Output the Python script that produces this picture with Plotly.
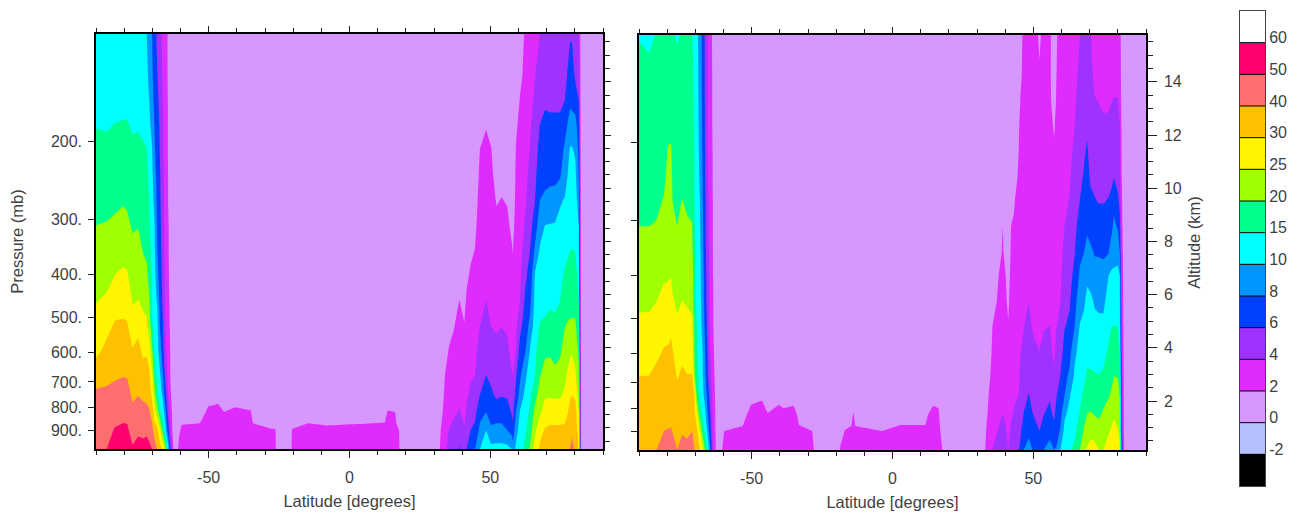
import numpy as np
import plotly.graph_objects as go

# ---- data -----------------------------------------------------------------
pressure = [993, 900, 819, 750, 675, 593, 520, 456, 400, 352, 309, 271, 238, 208, 183, 161, 141, 114]

levels = [-2, 0, 2, 4, 6, 8, 10, 15, 20, 25, 30, 40, 50, 60]
level_labels = ["-2", "0", "2", "4", "6", "8", "10", "15", "20", "25", "30", "40", "50", "60"]
band_colors = ["#000000", "#B6C0FF", "#D896FF", "#E02BFF", "#A032FF", "#0040FF", "#0096FF", "#00FFFF",
               "#00FF8C", "#A0FF00", "#FFF500", "#FFC000", "#FF6E6E", "#FF0070", "#FFFFFF"]

pressure_ticks = [200, 300, 400, 500, 600, 700, 800, 900]
pressure_labels = ["200.", "300.", "400.", "500.", "600.", "700.", "800.", "900."]
altitude_ticks = [2, 4, 6, 8, 10, 12, 14]
lat_ticks = [-50, 0, 50]

ONE = [1.0] * 14

lat_left = [-90, -86.2, -83.2, -80.3, -78.9, -77, -75, -73.2, -72, -71.1, -70.1, -69.2, -68.2, -67.3,
            -66.3, -65.4, -64.4, -63.5, -62.5, -61.6]
z_left = [
 [48,46,44,42,35.8,28.7,26.7,24.7,23.1,21.6,20,18.7,17.4,16.1,14.8,13.5,12.5,11],
 [50,47,44,41.6,38,32.5,28.5,25.6,23.6,21.9,20.2,18.8,17.5,16,14.6,13.3,12,10.8],
 [54,50.8,46.5,42.5,39,35,31,27.9,25,23,20.6,19.3,17.9,16.5,15.1,13.6,12.2,10.8],
 [55,51.6,47.6,43.8,39.6,35.4,31.2,28.2,25.7,23.5,21.3,19.6,18.2,16.7,15.3,13.8,12.4,11],
 [55,51.4,47.2,43.5,39.3,35,30.8,27.9,25.4,23,20.9,19.3,17.9,16.6,15.3,13.8,12.4,11],
 [51,46.5,42,38.5,35,30.6,26.8,24.5,22.7,21,19.5,18.3,17,15.8,14.5,13.3,12.2,10.8],
 [52.5,48.7,44,39.8,36.5,32.3,28.8,25,23.2,21.4,19.8,18.5,17.2,15.9,14.6,13.3,12.2,10.7],
 [52.5,48,42.5,38.5,34,29,26.2,24,21.8,19.7,18.7,17.6,16.5,15.4,14.2,12.9,11.6,10.4],
 [53,48.5,42,38,33.8,29.3,25.8,23.2,20.8,19.2,18.2,17.2,16.2,15.1,13.8,12.3,11,10],
 [52,47,41,36,32,27,23,20.5,18.5,17,15.5,15,14,13,11,10,9.5,9],
 [50,43,36,29,26,21,15.6,15,14.3,13.6,12.9,12,11.3,10.3,9.4,8.8,8.3,8],
 [45,35.5,27,22,18,14.3,13.2,12.3,11.4,10.6,10,9.4,8.8,8.2,7.9,7.5,7.1,6.7],
 [39,32,21.9,16,13.3,11.4,10.9,9.7,8.7,8,7.7,7.5,7.3,7,6.8,6.4,6,5.5],
 [34,26,16.4,12,10.7,9,8,7.4,7,6.8,6.6,6.3,6.2,5.9,5.7,5.4,4.9,4.6],
 [29,18.3,12.7,9.7,8.3,6.7,6.2,5.7,5.4,5.1,5,4.8,4.7,4.4,4.3,4,3.8,3.6],
 [22,11.7,8.8,6.8,5.3,4.5,4,3.7,3.5,3.4,3.4,3.2,3.2,3.1,3.1,3,2.8,2.7],
 [12.5,7,5.3,4,3.3,3,2.7,2.5,2.3,2.2,2.2,2,2,1.9,1.9,1.9,1.8,1.8],
 [5.5,3.5,2.9,2.2,1.8,1.8,1.6,1.5,1.4,1.3,1.3,1.3,1.3,1.2,1.2,1.2,1.2,1.2],
 [2,1,1,1,1,1,1,1,1,1,1,1,1,1,1,1,1,1],
 [1,1,1,1,1,1,1,1,1,1,1,1,1,1,1,1,1,1],
]

lat_mid = [-60.5, -59.6, -53.1, -50.2, -46.7, -44.5, -40.6, -35, -34.3, -27.5, -26.3, -25.7, -21.1, -20.4,
           -14.7, -8, 2.7, 12.6, 13.5, 16.2, 16.7, 17.6, 18.1]
z_mid = [
 [2.4,1.8,1,1]+ONE, [2.9,2.2,1.5,1]+ONE, [2.9,2.3,1.5,1]+ONE, [3.2,2.9,2.2,1.6]+ONE,
 [3.2,2.9,2.4,1.6]+ONE, [3.1,2.7,2,1.4]+ONE, [3.1,2.8,2.2,1.5]+ONE, [3.1,2.8,2.05,1.5]+ONE,
 [2.9,2.3,1.5,1]+ONE, [2.7,2.05,1.4,1]+ONE, [2.4,2.05,1.2,1]+ONE, [1,1,1,1]+ONE,
 [1,1,1,1]+ONE, [2.4,2.05,1.2,1]+ONE, [2.8,2.3,1.5,1]+ONE, [2.8,2.2,1.4,1]+ONE,
 [2.8,2.25,1.5,1]+ONE, [2.9,2.3,1.6,1]+ONE, [3.2,2.8,2.05,1.5]+ONE, [3,2.7,2,1.4]+ONE,
 [2.8,2.25,1.5,1]+ONE, [2.5,2,1.3,1]+ONE, [1,1,1,1]+ONE,
]

lat_right = [31.4, 32.6, 33.9, 35.2, 37.1, 39, 40.8, 41.6, 43, 44.6, 46.3, 48.5, 50.3, 52.2, 54, 56, 57.6, 58, 59.1,
             60.5, 62.3, 64.1, 65.9, 67.6, 69.4, 71.2, 73, 74.7, 76.5, 78.3, 79, 80.2, 81.4, 82.2, 90]
z_right = [
 [1,1,1,1]+ONE,
 [2.8,2.2,1.5,1]+ONE,
 [3.6,3.3,2.8,2.4,2,1.3,1,1,1,1,1,1,1,1,1,1,1,1],
 [4.5,4,3.6,3.2,2.8,2.05,1.5,1,1,1,1,1,1,1,1,1,1,1],
 [5,4.4,3.8,3.4,3,2.5,1.9,1.4,1,1,1,1,1,1,1,1,1,1],
 [6.2,5,4.1,3.7,3.4,2.9,2.5,2,1.5,1.2,1,1,1,1,1,1,1,1],
 [4.5,4.1,3.7,3.4,3.1,2.6,2.05,1.6,1.3,1,1,1,1,1,1,1,1,1],
 [6,5.1,4.2,3.8,3.4,3,2.6,2.2,1.7,1.3,1,1,1,1,1,1,1,1],
 [7,6,5.2,4.3,3.8,3.4,3,2.6,2.2,1.7,1.3,1,1,1,1,1,1,1],
 [8,6.4,5.5,4.8,4,3.6,3.2,2.8,2.45,2.05,1.6,1.3,1,1,1,1,1,1],
 [10,8.5,7.3,6,5.4,4.7,3.95,3.7,3.4,3.1,2.9,2.6,2.3,2,1.6,1.2,1,1],
 [12,10,8,7,6,5.3,4.6,4,3.7,3.4,3.1,2.8,2.5,2.2,1.95,1.5,1.1,1],
 [11.5,8.3,7.2,6.3,5.6,4.7,3.95,3.7,3.4,3.1,2.9,2.6,2.3,2.05,1.6,1.2,1,1],
 [11.5,8.6,7,5.7,5.1,4.4,3.8,3.4,3.1,2.7,2.3,1.9,1.5,1.2,1,1,1,1],
 [11.5,8.6,7,5.9,5.3,4.6,3.95,3.6,3.2,2.85,2.45,2.05,1.6,1.3,1,1,1,1],
 [11.5,8,6.8,5.8,5.1,4.3,3.8,3.4,3,2.65,2.3,1.9,1.5,1.2,1,1,1,1],
 [10,7.2,5.8,5,4.1,3.6,3.2,2.9,2.5,2.15,1.7,1.3,1,1,1,1,1,1],
 [9,6.6,5.4,4.7,4,3.5,3.1,2.7,2.3,1.95,1.6,1.3,1,1,1,1,1,1],
 [11,9.3,8,6.7,5.7,4.05,3.6,3.3,3,2.7,2.5,2.3,2.2,2.05,1.8,1.4,1.1,1],
 [13,11.5,10.2,8.6,7.6,6.7,5.3,3.9,3.6,3.2,3,2.8,2.6,2.4,2.3,2.05,1.6,1.1],
 [16,14,12.7,11,9.5,7.7,6.9,6.2,5.6,4.9,4.15,3.7,3.5,3.3,3,2.7,2.4,2.2],
 [20.5,18,15.8,14,12.3,10.2,8.5,7.4,6.6,6,5.3,4.8,4.4,4.05,3.8,3.5,3.2,2.8],
 [27,24,21.5,18.5,15,13.8,12.5,11.5,10.5,8.4,7,6,5.5,5,4.7,4.3,3.95,3.5],
 [32,28,24.2,22,19.7,17.5,15.2,13.6,12,10.5,9.2,8,7.3,6.7,6,5.5,5,4],
 [34,31,26.5,24.6,21.5,19.2,15.6,13.8,12.2,11,10,8.5,7.2,6.7,6.3,5.8,5.3,4.6],
 [36,32,27.5,24.5,22.2,19.2,16.2,14.2,12.8,11.5,10.2,8.6,7.5,6.9,6.3,5.7,5.2,4.6],
 [36,32,27.4,24.3,21.2,18.3,15.8,14.2,13,11.7,10.4,8.7,7.5,6.9,6.3,5.7,5.2,4.6],
 [36,32,27.5,24.4,21.6,19.2,16.9,14.8,13.7,12.3,11,9.8,7.7,7,6.3,5.7,5.2,4.6],
 [37,32.5,27.9,25.8,24,21.9,19.9,17.7,15.6,13.7,12,10.3,9.3,8.4,7.3,6,5.4,4.7],
 [40,36,32.5,29.5,26.9,24,20.5,18.7,17,14.9,13.8,12.6,11.5,10.4,8.8,7.6,6.8,5.8],
 [44,37.5,33,30,27,24.5,20.5,18.7,17,15.1,13.8,12.6,11.5,10.4,8.8,7.4,6.8,5.8],
 [38,36,33,29.4,25.6,23,20.5,18.6,16.7,14.9,13.5,12.2,11,9.7,8.7,7,5.6,4.8],
 [30,27,25,23,21,19,17,15,13,11,10,9,8,7.5,6.8,6,5,4.3],
 [1,1,1,1]+ONE,
 [1,1,1,1]+ONE,
]

lat_left2 = [-90, -86.3, -83.8, -81.2, -79.7, -78.6, -78, -76.4, -74.7, -72.9, -71.1, -70.3, -69.3, -68.4,
             -67.4, -66.5, -65.6, -64.6, -63.6, -62.7, -61.8]
z_left2 = [
 [39,37,35,32.7,30,27.9,25.9,24.2,22.8,21.4,20,19.3,18.6,18,17.5,17,16.5,14.7],
 [38.5,36.5,34.4,32.4,30.1,28,25.9,24.3,22.9,21.4,20,19.3,18.6,18,17.5,17,16.3,14],
 [40,38,36,34,31.8,29.2,27,24.9,23.4,21.8,20.2,19.4,18.7,18,17.5,17,16.5,15.2],
 [42,40,37.5,35,32.7,30.5,28.4,26.2,24.4,22.9,21.6,20.2,19,18.3,17.7,17,16.5,15.5],
 [42,40.3,38,35.5,33,30.7,28.9,26.7,24.5,23.9,23,22.2,21.2,20.3,18.8,17.7,16.8,15.3],
 [42,40.4,38.4,36.5,34.5,31.5,29.3,27,24.8,24,23,22.3,21.4,20.4,19,17.8,16.8,15.2],
 [42,39.7,37.5,35.7,33.8,30.3,27.8,25.4,23.6,22.3,21,19.9,19,18.2,17.5,17,16.3,15.2],
 [40,38.2,36,33.3,29.6,27.7,25.7,24.2,22.8,21.4,20,19.3,18.6,18,17.5,17,16.4,14.6],
 [42,39.5,36.5,34,31.5,28.9,26.9,25,23.8,22.6,21.4,20.1,19,18.3,17.5,17,16.5,15.3],
 [42,38.7,36.2,33.5,30.3,28.2,26.3,24.6,23.2,21.9,20.4,19.5,18.7,18,17.4,16.9,16.5,15.3],
 [44,40,36.5,34,30.4,28,25.7,24,22.7,21.3,20.1,19.4,18.6,18,17.4,16.8,16.4,15.1],
 [40,38,32,30,21,19.4,18.75,16,15.9,15.6,15.3,15,14.8,14.7,14.3,14,13.8,13.4],
 [35,31,24.5,18,16,15,14.4,13.8,13.5,13.2,12.9,12.6,12.3,12,11.7,11.4,11.2,10.9],
 [30,25,18,13.8,13,12.5,11.9,11.5,11.2,10.9,10.5,10.2,9.7,9.5,9.4,9.3,9.2,9],
 [26,18,13.3,11.2,10.6,10,9.5,9.2,9,8.8,8.5,8.2,8,7.8,7.7,7.6,7.5,7.4],
 [20,13.5,10.7,9.4,8.4,8,7.4,7,6.9,6.5,6.3,6.2,6,5.9,5.8,5.7,5.6,5.6],
 [13.3,9.6,8,7.2,6.2,5.8,5.3,5,4.9,4.7,4.6,4.5,4.2,4,4,4,4,4],
 [8,6.4,5.7,4.9,4.2,3.8,3.3,3.3,3.2,3.1,3,3,2.8,2.8,2.7,2.6,2.6,2.5],
 [3.6,3.2,3.2,2.8,2.4,2.2,2,2,1.9,1.8,1.8,1.8,1.7,1.7,1.6,1.6,1.6,1.5],
 [1.9,1.8,1.7,1.6,1.5,1.4,1.3,1.3,1.3,1.2,1.2,1.2,1.2,1.2,1.2,1.2,1.2,1.1],
 [1,1,1,1]+ONE,
]

lat_mid2 = [-59.8, -53.1, -50.2, -46.3, -44.3, -40.4, -38.6, -35.1, -33.8, -33.2, -28.5, -28, -27.3, -19.3, -18.5,
            -16.9, -14.6, -13.9, -13.2, -3.7, 2.8, 11.7, 12.5, 14.4, 16.4, 17, 17.6, 18.1]
z_mid2 = [
 [2.5,2,1.2,1]+ONE, [2.9,2.2,1.5,1]+ONE, [3.2,2.9,2.4,1.6]+ONE, [3.3,3,2.6,1.8]+ONE,
 [3.1,2.7,2,1.4]+ONE, [3.1,2.8,2.4,1.6]+ONE, [3.1,2.8,2.2,1.5]+ONE, [3.1,2.8,2.3,1.6]+ONE,
 [3,2.6,1.9,1.3]+ONE, [2.8,2.25,1.5,1]+ONE, [2.6,2,1.3,1]+ONE, [2.1,1.5,1,1]+ONE,
 [1,1,1,1]+ONE, [1,1,1,1]+ONE, [2.2,1.3,1,1]+ONE, [2.7,2.05,1.2,1]+ONE,
 [2.8,2.2,1.5,1]+ONE, [3.2,2.9,2.05,1.4]+ONE, [2.8,2.2,1.5,1]+ONE, [2.6,2,1.4,1]+ONE,
 [2.8,2.25,1.5,1]+ONE, [2.8,2.25,1.5,1]+ONE, [3,2.6,1.9,1.3]+ONE, [3.2,2.9,2.3,1.6]+ONE,
 [3.1,2.8,2.2,1.5]+ONE, [2.7,2,1.3,1]+ONE, [2.1,1.4,1,1]+ONE, [1,1,1,1]+ONE,
]

lat_right2 = [30.6, 32.4, 33.4, 34.6, 35.5, 37.7, 39.2, 40.2, 41.1, 42.1, 43.1, 44.9, 45.4, 46.6, 48.4, 50.1, 52.2,
              53.7, 55.8, 57.4, 58.3, 59.6, 61.1, 62.9, 64.7, 66.5, 67.9, 69.1, 70.3, 71.8, 73.3, 74.9, 76.7,
              77.9, 78.6, 80, 80.7, 81.4, 82.3, 90]
z_right2 = [
 [1,1,1,1]+ONE,
 [1,1,1,1]+ONE,
 [2.8,2.2,1.7,1.4]+ONE,
 [3.3,3,2.7,2.4,1.9,1.4,1,1,1,1,1,1,1,1,1,1,1,1],
 [4,3.6,3.2,2.9,2.6,2.3,2,1.5,1.2,1,1,1,1,1,1,1,1,1],
 [5,4.1,3.7,3.4,3,2.7,2.5,2.2,2,1.7,1.2,1,1,1,1,1,1,1],
 [5.6,4.6,4,3.6,3.3,3,2.8,2.5,2.3,2.1,2,1.5,1.2,1,1,1,1,1],
 [4.7,4.1,3.7,3.4,3.1,2.8,2.5,2.2,2,1.6,1.3,1,1,1,1,1,1,1],
 [4,3.7,3.4,3.1,2.8,2.4,2.1,1.7,1.4,1,1,1,1,1,1,1,1,1],
 [5,4.2,3.8,3.5,3.3,3,2.8,2.6,2.4,2.2,2,1.5,1.2,1,1,1,1,1],
 [5.8,5,4.1,3.8,3.5,3.2,2.9,2.7,2.5,2.3,2.1,1.9,1.4,1,1,1,1,1],
 [6,5.4,4.7,4.05,3.8,3.6,3.4,3.2,3,2.8,2.6,2.4,2.2,2.05,1.9,1.5,1.2,1],
 [6.3,5.7,5.2,4.8,4.4,3.95,3.7,3.4,3.2,3,2.8,2.6,2.4,2.3,2.3,2.05,1.6,1.1],
 [8,6.8,6,5.5,4.9,4.3,3.95,3.7,3.5,3.4,3.2,3,2.9,2.7,2.6,2.5,2.6,2.6],
 [8.9,7.5,6.4,6.1,5.5,4.6,4.3,4,3.7,3.5,3.3,3.1,2.9,2.8,2.8,2.8,2.8,2.8],
 [7.7,6.6,5.9,5.4,4.9,4.3,3.8,3.6,3.4,3.2,3.1,2.9,2.8,2.7,2.7,2.7,2.8,2.8],
 [7.2,6,5.4,5,4.6,4,3.7,3.5,3.3,3.1,3,2.8,2.7,2.5,2.4,2.3,2.2,1.7],
 [8,6.7,5.9,5.5,5,4.2,3.95,3.7,3.5,3.4,3.3,3.2,3.1,3,2.9,2.8,2.7,2.6],
 [8.6,7.5,6.4,5.8,5.2,4.4,4,3.7,3.4,3.2,3,2.8,2.6,2.4,2.3,2.2,2.2,2.3],
 [8,6.6,5.6,5,4.2,3.7,3.5,3.3,3,2.8,2.6,2.4,2.25,2.1,1.9,1.6,1.4,1.2],
 [8.2,7.3,6.7,6,5.4,4.6,4,3.7,3.4,3.2,3,2.8,2.6,2.4,2.3,2.15,2.05,1.9],
 [10,8.2,7.3,6.7,6,5.2,4.5,3.95,3.6,3.4,3.2,3.1,2.9,2.8,2.7,2.6,2.6,2.6],
 [13,11.5,9.6,8,7.4,6.6,5.9,5.4,5,4.5,4,3.7,3.4,3.2,3,2.9,2.8,2.7],
 [14.5,12.8,11.2,9.9,8.4,7.3,6.3,5.8,5.4,5,4.6,4.1,3.8,3.5,3.3,3.1,3,2.8],
 [16,14,12.8,11.7,10.8,9.6,8,7.3,6.5,5.9,5.5,5.1,4.7,4.4,4,3.7,3.4,3],
 [20,17.8,15.2,13.9,12.8,11.5,10.2,9.2,8.3,7.5,6.7,6,5.6,5.2,5,4.8,4.5,4],
 [24,20.3,18,15.8,14,12.4,11,9.7,8.8,7.9,7.3,6.7,6.1,5.7,5.4,5.2,4.9,4.4],
 [25.5,22.5,20,17.8,15.5,13.9,12.4,11,9.7,8.5,7.7,7.2,6.7,6.2,5.7,5.3,5,4.4],
 [27,23.5,20.2,17.9,15.5,13.8,12.2,10.8,9.4,8.3,7.3,6.4,5.7,5.3,5,4.8,4.5,4.1],
 [27,22.6,19.6,17.6,15.3,13.4,11.1,9.8,8.7,7.8,7,6.1,5.5,5,4.6,4.1,3.6,3],
 [25,21.9,19.1,17.2,15.1,13.1,10.8,9.7,8.6,7.8,6.9,5.9,5.4,5,4.5,3.95,3.5,2.9],
 [25,22.8,20.6,18.7,15.6,13.6,11,9.6,8.6,7.7,6.8,5.9,5.2,4.9,4.3,3.7,3.2,2.8],
 [27,24.5,22,19.7,17.7,15.6,13.7,11.8,10,7.8,7,6.1,5.4,5,4.4,3.7,3.2,2.8],
 [28.5,25.7,23.4,20.8,19.1,17.1,15,12.9,10.7,9.2,7.6,6.5,5.6,5.2,4.7,4,3.5,3],
 [30.5,27,24,21.5,20,17.5,15,12.9,10.6,9.5,8.5,7.3,5.9,5.4,4.9,4.05,3.7,3.4],
 [28,25.3,23.5,21.6,19.8,17.5,15,12.8,10.9,9.5,7.7,6.3,5.5,5.2,4.6,4.05,3.7,3.1],
 [26,23,21,20,18,15,12,10.5,10,8,6.5,5.5,4.8,4.5,4.1,3.5,3.1,2.8],
 [8,6.5,6,5.5,5,4.5,4,3.5,3,2.7,2.4,2.2,2,1.8,1.6,1.4,1.2,1],
 [1,1,1,1]+ONE,
 [1,1,1,1]+ONE,
]

# ---- styling ---------------------------------------------------------------
PAGE = 8  # the page body adds this margin around the figure
W, H = 1288, 507
TXT = "#3f3f3f"
FONT = dict(family="Liberation Sans, Arial, sans-serif", size=16, color=TXT)
TITLE = dict(family="Liberation Sans, Arial, sans-serif", size=16.5, color=TXT)


def to_band(z):
    return np.interp(np.asarray(z, float), levels, np.arange(1, len(levels) + 1))


def dom_x(a, b):
    return [(a - PAGE) / W, (b - PAGE) / W]


def dom_y(top, bottom):
    return [1 - (bottom - PAGE) / H, 1 - (top - PAGE) / H]


n = len(levels)
key_scale = [[i / (len(band_colors) - 1), c] for i, c in enumerate(band_colors)]
# a filled contour band k takes the colour found at (k - 0.5) / (n - 1) of its scale
fill_scale = ([[0, band_colors[0]]]
              + [[(k - 0.5) / (n - 1), band_colors[k]] for k in range(1, n)]
              + [[1, band_colors[n]]])

fig = go.Figure()
for lats, cols, xa, ya, name in [
    (lat_left + lat_mid + lat_right, z_left + z_mid + z_right, "x", "y", "Left panel"),
    (lat_left2 + lat_mid2 + lat_right2, z_left2 + z_mid2 + z_right2, "x2", "y2", "Right panel"),
]:
    z = to_band(np.array(cols, float).T)
    fig.add_trace(go.Contour(
        x=lats, y=pressure, z=z, xaxis=xa, yaxis=ya, name=name,
        autocontour=False,
        contours=dict(start=1, end=n, size=1, coloring="fill", showlines=False),
        line=dict(width=0, smoothing=0),
        colorscale=fill_scale, zmin=1, zmax=n, showscale=False, hoverinfo="skip",
    ))

# color key, one cell per band
fig.add_trace(go.Heatmap(
    z=[[i] for i in range(len(band_colors))], x=[0], y=list(range(len(band_colors))),
    xaxis="x3", yaxis="y3", colorscale=key_scale, zmin=0, zmax=len(band_colors) - 1,
    showscale=False, hoverinfo="skip",
))
# traces that anchor the top latitude axes and the altitude axes
for xa, ya in [("x4", "y"), ("x5", "y2"), ("x", "y4"), ("x2", "y5")]:
    fig.add_trace(go.Scatter(x=[0], y=[500 if ya in ("y", "y2") else 2], xaxis=xa, yaxis=ya, mode="markers",
                             marker=dict(opacity=0), showlegend=False, hoverinfo="skip"))

LINE = dict(showline=True, linecolor="black", linewidth=1.5, tickcolor="#222222", tickwidth=1.2)
LAT_MINOR = dict(tickmode="linear", tick0=0, dtick=10, ticks="outside", ticklen=4,
                 tickcolor="#222222", tickwidth=1.2, showgrid=False)


def lat_axis(domain, anchor):
    return dict(domain=domain, anchor=anchor, range=[-90, 90], tickmode="array", tickvals=lat_ticks,
                ticktext=["-50", "0", "50"], ticks="outside", ticklen=7, minor=LAT_MINOR,
                showgrid=False, zeroline=False, tickfont=FONT, layer="above traces", ticklabelstandoff=6,
                title=dict(text="Latitude [degrees]", font=TITLE, standoff=10), **LINE)


def lat_top_axis(domain, over, anchor):
    return dict(domain=domain, overlaying=over, anchor=anchor, side="top", range=[-90, 90], tickmode="array",
                tickvals=lat_ticks, ticks="outside", ticklen=6, showticklabels=False, minor=LAT_MINOR,
                showgrid=False, zeroline=False, layer="above traces", **LINE)


def pressure_axis(domain, anchor, labels):
    d = dict(domain=domain, anchor=anchor, type="log",
             range=[float(np.log10(993)), float(np.log10(114))],
             tickmode="array", tickvals=pressure_ticks, ticktext=pressure_labels,
             ticks="outside", ticklen=6, showticklabels=labels, showgrid=False, zeroline=False,
             tickfont=FONT, layer="above traces", ticklabelstandoff=3, **LINE)
    if labels:
        d["title"] = dict(text="Pressure (mb)", font=TITLE, standoff=24)
    return d


def altitude_axis(domain, over, anchor, rng, labels):
    d = dict(domain=domain, overlaying=over, anchor=anchor, side="right", range=rng,
             tickmode="array", tickvals=altitude_ticks, ticks="outside",
             ticklen=9 if labels else 6, showticklabels=labels, ticklabelstandoff=4,
             minor=dict(tickmode="linear", tick0=0, dtick=0.5, ticks="outside", ticklen=5,
                        tickcolor="#222222", tickwidth=1.2, showgrid=False),
             showgrid=False, zeroline=False, tickfont=FONT, layer="above traces", **LINE)
    if labels:
        d["title"] = dict(text="Altitude (km)", font=TITLE, standoff=8)
    return d


P1 = dom_y(34, 449)
P2 = dom_y(35, 450)
X1 = dom_x(96, 603)
X2 = dom_x(639, 1146)
shapes = [dict(type="line", xref="x3 domain", yref="y3", x0=0, x1=1, y0=i + 0.5, y1=i + 0.5,
               line=dict(color="black", width=1)) for i in range(len(levels))]

fig.update_layout(
    width=W, height=H, margin=dict(l=0, r=0, t=0, b=0), paper_bgcolor="white", plot_bgcolor="white",
    showlegend=False, font=FONT, shapes=shapes,
    xaxis=lat_axis(X1, "y"),
    xaxis2=lat_axis(X2, "y2"),
    yaxis=pressure_axis(P1, "x", True),
    yaxis2=pressure_axis(P2, "x2", False),
    xaxis3=dict(domain=dom_x(1240, 1265), anchor="y3", range=[-0.5, 0.5], showticklabels=False, ticks="",
                showgrid=False, zeroline=False, showline=True, mirror=True, linecolor="#444444", linewidth=1),
    yaxis3=dict(domain=dom_y(11, 486), anchor="x3", side="right", range=[-0.5, 14.5], tickmode="array",
                tickvals=[i + 0.5 + 0.16 for i in range(len(levels))], ticktext=level_labels, ticks="",
                showgrid=False, zeroline=False, showline=True, mirror=True, linecolor="#444444", linewidth=1,
                tickfont=FONT),
    xaxis4=lat_top_axis(X1, "x", "y"),
    xaxis5=lat_top_axis(X2, "x2", "y2"),
    yaxis4=altitude_axis(P1, "y", "x", [0.2, 15.8], False),
    yaxis5=altitude_axis(P2, "y2", "x2", [0.16, 15.76], True),
)
fig.write_html("out.html")
